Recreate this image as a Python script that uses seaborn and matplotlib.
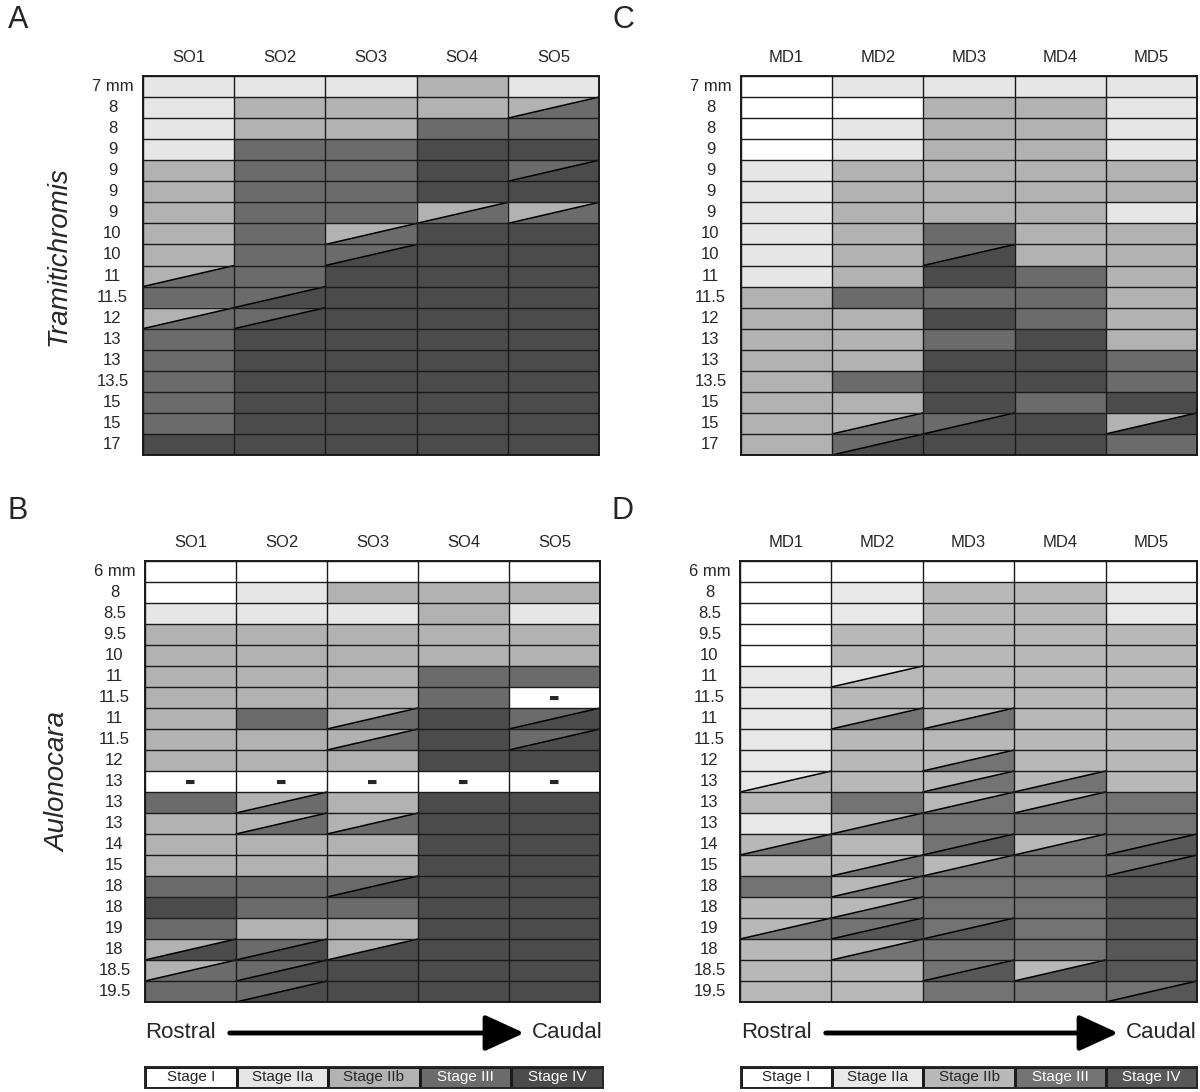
import numpy as np
import pandas as pd
import seaborn as sns
import matplotlib.pyplot as plt
from matplotlib.colors import ListedColormap
from matplotlib.patches import Polygon, FancyArrowPatch

sns.set_style("white")
plt.rcParams["font.family"] = ["Liberation Sans", "DejaVu Sans"]

# stage palette (I, IIa, IIb, III, IV)
stage_names = ["Stage I", "Stage IIa", "Stage IIb", "Stage III", "Stage IV"]
stage_colors = ['#ffffff', '#e6e6e6', '#b2b2b2', '#6b6b6b', '#4b4b4b']
stage_colors_d = ['#ffffff', '#e8e8e8', '#b8b8b8', '#737373', '#575757']

so_cols = ["SO1", "SO2", "SO3", "SO4", "SO5"]
md_cols = ["MD1", "MD2", "MD3", "MD4", "MD5"]

tram_sizes = ["7 mm", "8", "8", "9", "9", "9", "9", "10", "10", "11", "11.5",
              "12", "13", "13", "13.5", "15", "15", "17"]
aulo_sizes = ["6 mm", "8", "8.5", "9.5", "10", "11", "11.5", "11", "11.5", "12",
              "13", "13", "13", "14", "15", "18", "18", "19", "18", "18.5", "19.5"]

# "a/b" = split cell: upper-left stage a, lower-right stage b; "-" = no data
tram_so = [
    ["2", "2", "2", "3", "2"],
    ["2", "3", "3", "3", "3/4"],
    ["2", "3", "3", "4", "4"],
    ["2", "4", "4", "5", "5"],
    ["3", "4", "4", "5", "4/5"],
    ["3", "4", "4", "5", "5"],
    ["3", "4", "4", "3/4", "3/4"],
    ["3", "4", "3/4", "5", "5"],
    ["3", "4", "4/5", "5", "5"],
    ["3/4", "4", "5", "5", "5"],
    ["4", "4/5", "5", "5", "5"],
    ["3/4", "4/5", "5", "5", "5"],
    ["4", "5", "5", "5", "5"],
    ["4", "5", "5", "5", "5"],
    ["4", "5", "5", "5", "5"],
    ["4", "5", "5", "5", "5"],
    ["4", "5", "5", "5", "5"],
    ["5", "5", "5", "5", "5"],
]

tram_md = [
    ["1", "2", "2", "2", "2"],
    ["1", "1", "3", "3", "2"],
    ["1", "2", "3", "3", "2"],
    ["1", "2", "3", "3", "2"],
    ["2", "3", "3", "3", "3"],
    ["2", "3", "3", "3", "3"],
    ["2", "3", "3", "3", "2"],
    ["2", "3", "4", "3", "3"],
    ["2", "3", "4/5", "3", "3"],
    ["2", "3", "5", "4", "3"],
    ["3", "4", "4", "4", "3"],
    ["3", "3", "5", "4", "3"],
    ["3", "3", "4", "5", "3"],
    ["3", "3", "5", "5", "4"],
    ["3", "4", "5", "5", "4"],
    ["3", "3", "5", "4", "5"],
    ["3", "3/4", "4/5", "5", "3/5"],
    ["3", "4/5", "5", "5", "4"],
]

aulo_so = [
    ["1", "1", "1", "1", "1"],
    ["1", "2", "3", "3", "3"],
    ["2", "2", "2", "3", "2"],
    ["3", "3", "3", "3", "3"],
    ["3", "3", "3", "3", "3"],
    ["3", "3", "3", "4", "4"],
    ["3", "3", "3", "4", "-"],
    ["3", "4", "3/4", "5", "4/5"],
    ["3", "3", "3/4", "5", "4/5"],
    ["3", "3", "3", "5", "5"],
    ["-", "-", "-", "-", "-"],
    ["4", "3/4", "3", "5", "5"],
    ["3", "3/4", "3/4", "5", "5"],
    ["3", "3", "3", "5", "5"],
    ["3", "3", "3", "5", "5"],
    ["4", "4", "4/5", "5", "5"],
    ["5", "4", "4", "5", "5"],
    ["4", "3", "3", "5", "5"],
    ["3/5", "4/5", "3/5", "5", "5"],
    ["3/4", "4/5", "5", "5", "5"],
    ["4", "4/5", "5", "5", "5"],
]

aulo_md = [
    ["1", "1", "1", "1", "1"],
    ["1", "2", "3", "3", "2"],
    ["1", "2", "3", "3", "2"],
    ["1", "3", "3", "3", "3"],
    ["1", "3", "3", "3", "3"],
    ["2", "2/3", "3", "3", "3"],
    ["2", "3", "3", "3", "3"],
    ["2", "3/4", "3/4", "3", "3"],
    ["2", "3", "3", "3", "3"],
    ["2", "3", "3/4", "3", "3"],
    ["2/3", "3", "3/4", "3/4", "3"],
    ["3", "4", "3/4", "3/4", "4"],
    ["2", "3/4", "4", "4", "4"],
    ["3/4", "3", "4/5", "3/4", "4/5"],
    ["3", "3/4", "3/4", "4", "4/5"],
    ["4", "3/4", "4", "4", "5"],
    ["3", "3/4", "4", "4", "5"],
    ["3/4", "4/5", "4/5", "4", "5"],
    ["3", "3/4", "4", "4", "5"],
    ["3", "3", "4/5", "3/5", "5"],
    ["3", "3", "4", "4", "4/5"],
]

W, H = 1200, 1092
fig = plt.figure(figsize=(W / 100, H / 100), dpi=100)


def frac(x0, y0, x1, y1):
    # pixel box -> figure rect
    return [x0 / W, 1 - y1 / H, (x1 - x0) / W, (y1 - y0) / H]


def parse(cells):
    n, m = len(cells), len(cells[0])
    base = np.ones((n, m))
    upper = np.full((n, m), np.nan)
    missing = np.zeros((n, m), dtype=bool)
    for i, row in enumerate(cells):
        for j, s in enumerate(row):
            if s == "-":
                missing[i, j] = True
            elif "/" in s:
                u, b = s.split("/")
                upper[i, j] = int(u)
                base[i, j] = int(b)
            else:
                base[i, j] = int(s)
    return base, upper, missing


def draw_panel(rect, cells, cols, rows, palette):
    ax = fig.add_axes(rect)
    base, upper, missing = parse(cells)
    df = pd.DataFrame(base, columns=cols)
    sns.heatmap(df, cmap=ListedColormap(palette), vmin=0.5, vmax=5.5, cbar=False,
                xticklabels=cols, yticklabels=rows, ax=ax)
    n, m = base.shape
    for i in range(n):
        for j in range(m):
            if not np.isnan(upper[i, j]):
                ax.add_patch(Polygon([(j, i), (j + 1, i), (j, i + 1)], closed=True,
                                     facecolor=palette[int(upper[i, j]) - 1],
                                     edgecolor='none'))
                ax.plot([j, j + 1], [i + 1, i], color='black', lw=1.1)
            if missing[i, j]:
                ax.text(j + 0.5, i + 0.5, "\u25ac", ha='center', va='center',
                        fontsize=8, family='DejaVu Sans')
    ax.hlines(np.arange(n + 1), 0, m, color='#1a1a1a', lw=1.0)
    ax.vlines(np.arange(m + 1), 0, n, color='#1a1a1a', lw=1.0)
    for sp in ax.spines.values():
        sp.set_visible(True)
        sp.set_linewidth(1.4)
        sp.set_color('#1a1a1a')
    ax.xaxis.tick_top()
    ax.tick_params(axis='x', length=0, pad=8, labelsize=12)
    ax.tick_params(axis='y', length=0, pad=22, labelsize=12)
    plt.setp(ax.get_xticklabels(), rotation=0)
    plt.setp(ax.get_yticklabels(), rotation=0, ha='center')
    ax.set_xlabel("")
    ax.set_ylabel("")
    return ax


def draw_footer(x0, x1, palette, y_arrow=1033, y_bar=(1067, 1088)):
    fig.text(x0 / W, 1 - y_arrow / H, "Rostral", ha='left', va='center', fontsize=16)
    fig.text(x1 / W, 1 - y_arrow / H, "Caudal", ha='right', va='center', fontsize=16)
    fig.add_artist(FancyArrowPatch(
        ((x0 + 82) / W, 1 - y_arrow / H), ((x1 - 76) / W, 1 - y_arrow / H),
        transform=fig.transFigure, arrowstyle='-|>,head_length=1.2,head_width=0.55',
        mutation_scale=20, lw=3.5, color='black'))
    lax = fig.add_axes(frac(x0, y_bar[0], x1, y_bar[1]))
    vals = np.arange(1, 6).reshape(1, 5)
    sns.heatmap(vals, cmap=ListedColormap(palette), vmin=0.5, vmax=5.5, cbar=False,
                annot=np.array([stage_names]), fmt='', annot_kws={'fontsize': 11},
                linewidths=1, linecolor='#1a1a1a', xticklabels=False, yticklabels=False,
                ax=lax)
    for sp in lax.spines.values():
        sp.set_visible(True)
        sp.set_linewidth(1.4)


draw_panel(frac(143, 76, 599, 455), tram_so, so_cols, tram_sizes, stage_colors)
draw_panel(frac(741, 76, 1197, 455), tram_md, md_cols, tram_sizes, stage_colors)
draw_panel(frac(145, 561, 600, 1002), aulo_so, so_cols, aulo_sizes, stage_colors)
draw_panel(frac(740, 561, 1197, 1002), aulo_md, md_cols, aulo_sizes, stage_colors_d)

draw_footer(145, 603, stage_colors)
draw_footer(741, 1197, stage_colors_d)

for letter, x, y in [("A", 8, 20), ("C", 612, 20), ("B", 8, 511), ("D", 612, 511)]:
    fig.text(x / W, 1 - y / H, letter, fontsize=22, ha='left', va='center')

fig.text(58 / W, 1 - 256 / H, "Tramitichromis", rotation=90, style='italic',
         fontsize=20, ha='center', va='center')
fig.text(58 / W, 1 - 782 / H, "Aulonocara", rotation=90, style='italic',
         fontsize=20, ha='center', va='center')

fig.savefig("out.png", dpi=100)
